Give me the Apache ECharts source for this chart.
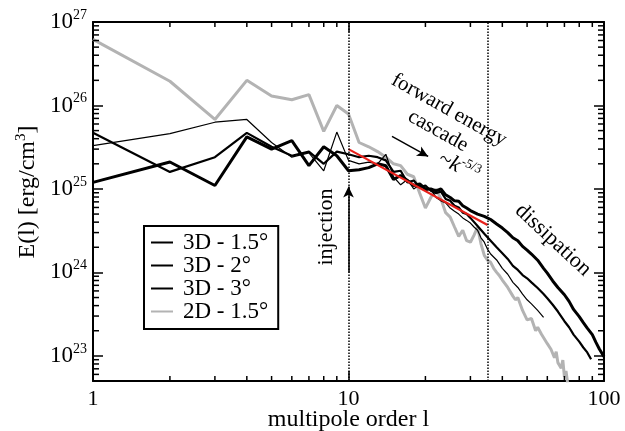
<!DOCTYPE html>
<html>
<head>
    <meta charset="utf-8">
    <script src="https://cdn.jsdelivr.net/npm/echarts@6/dist/echarts.min.js"></script>
    <style>
        html, body { margin: 0; padding: 0; background: #fff; }
        #main { width: 625px; height: 431px; }
    </style>
</head>
<body>
<div id="main"></div>
<script>
  // 能量谱 E(l)，从图上读出的数值
  var names = ['3D - 1.5°', '3D - 2°', '3D - 3°', '2D - 1.5°'];

  var l3d15 = [1,2,3,4,5,6,7,8,9,10,11,12,13,14,15,16,17,18,19,20,21,22,23,24,25,26,27,28,29,30,
    32,34,36,38,40,42,44,46,48,50,52,55,58,60,63,66,70,73,76,80,83,86,90,93,96,100];
  var e3d15 = [1.2e25,2.1e25,1.1e25,4.2e25,3.0e25,3.8e25,1.9e25,3.2e25,2.5e25,1.65e25,
    1.7e25,1.8e25,2.0e25,1.9e25,1.3e25,1.45e25,1.26e25,1.1e25,1.15e25,1.0e25,
    1.0e25,9.5e24,1.0e25,8.5e24,7.9e24,7.2e24,7.1e24,6.3e24,5.9e24,5.5e24,
    5.0e24,4.7e24,4.3e24,3.8e24,3.4e24,3.0e24,2.6e24,2.4e24,2.05e24,1.85e24,
    1.66e24,1.4e24,1.12e24,9.8e23,7.9e23,6.6e23,5.4e23,4.5e23,3.6e23,2.95e23,
    2.5e23,2.15e23,1.8e23,1.45e23,1.2e23,9.8e22];

  var l3d2 = [1,2,3,4,5,6,7,8,9,10,11,12,13,14,15,16,17,18,19,20,21,22,23,24,25,26,27,28,29,30,
    32,34,36,38,40,42,44,46,48,50,52,55,58,60,63,66,70,73,76,80,83,86,89];
  var e3d2 = [4.7e25,1.6e25,2.4e25,4.7e25,3.2e25,2.5e25,2.8e25,2.0e25,2.8e25,2.6e25,
    2.4e25,2.5e25,2.4e25,2.2e25,1.6e25,1.65e25,1.2e25,1.26e25,1.05e25,1.1e25,
    9.5e24,8.9e24,9.3e24,7.6e24,7.2e24,6.3e24,6.0e24,5.2e24,5.0e24,4.5e24,
    3.6e24,2.9e24,2.4e24,2.0e24,1.7e24,1.45e24,1.2e24,1.07e24,9.3e23,8.5e23,
    7.6e23,6.5e23,5.5e23,4.9e23,4.1e23,3.4e23,2.6e23,2.2e23,1.8e23,1.48e23,
    1.26e23,1.1e23,9.1e22];

  var l3d3 = [1,2,3,4,5,6,7,8,9,10,11,12,13,14,15,16,17,18,19,20,21,22,23,24,25,26,27,28,29,30,
    31,32,33,34,35,36,38,40,42,44,46,48,50,52,55,58];
  var e3d3 = [3.3e25,4.6e25,6.3e25,6.8e25,3.6e25,2.4e25,2.7e25,1.65e25,4.8e25,2.2e25,
    2.0e25,2.1e25,2.0e25,2.6e25,1.4e25,1.12e25,1.3e25,1.0e25,1.12e25,9.5e24,
    1.0e25,7.9e24,7.2e24,6.8e24,5.9e24,5.4e24,5.0e24,4.5e24,4.2e24,3.9e24,
    3.5e24,3.2e24,2.6e24,2.3e24,1.9e24,1.66e24,1.41e24,1.12e24,9.5e23,7.6e23,
    6.6e23,5.5e23,4.7e23,4.2e23,3.5e23,2.9e23];

  var l2d15 = [1,2,3,4,5,6,7,8,9,10,11,12,13,14,15,16,17,18,19,20,21,22,23,24,25,26,27,28,29,30,
    31,32,33,34,35,36,37,38,39,40,42,44,45,46,48,50,52,54,55,57,60,62,64,65,66,68,69,70,71,72];
  var e2d15 = [6.2e26,1.95e26,6.8e25,2.0e26,1.3e26,1.17e26,1.35e26,4.9e25,1.0e26,7.9e25,
    3.6e25,3.2e25,2.8e25,2.4e25,2.0e25,1.9e25,1.5e25,1.4e25,8.9e24,5.9e24,
    7.9e24,1.0e25,7.6e24,5.2e24,4.6e24,3.5e24,2.7e24,3.2e24,2.4e24,2.3e24,
    2.8e24,3.5e24,2.2e24,1.6e24,1.4e24,1.32e24,1.12e24,1.0e24,9.1e23,8.1e23,
    6.6e23,5.2e23,4.7e23,5.0e23,3.5e23,2.7e23,2.8e23,2.0e23,2.2e23,1.8e23,
    1.4e23,1.2e23,9.5e22,1.12e23,8.3e22,7.1e22,8.9e22,5.6e22,6.6e22,4.8e22];

  // 红色 -5/3 拟合线的两个端点
  var lFit = [10, 35];
  var eFit = [3.0e25, 3.7e24];

  // 坐标轴范围与次刻度
  var xMin = 1, xMax = 100, yMin = 5e22, yMax = 1e27;
  var xMinor = [2,3,4,5,6,7,8,9,20,30,40,50,60,70,80,90];
  var yMinorMult = [2,3,4,5,6,7,8,9];
  var yDecades = [22,23,24,25,26];

  var FONT = 'Liberation Serif';

  function zip(ls, es) {
    return ls.map(function (l, i) { return [l, es[i]]; });
  }

  var yMinor = [];
  yDecades.forEach(function (d) {
    yMinorMult.forEach(function (m) {
      var v = m * Math.pow(10, d);
      if (v > yMin && v < yMax) yMinor.push(v);
    });
  });

  function powLabel(v) {
    var p = Math.log10(v);
    var e = Math.round(p);
    if (Math.abs(p - e) > 1e-3) return '';
    return '{b|10}{s|' + e + '}';
  }

  // 每根轴单独生成样式对象
  function axisLine() {
    return { show: true, onZero: false, lineStyle: { color: '#000', width: 2 } };
  }
  function axisTick() {
    return { show: true, inside: true, length: 10, lineStyle: { color: '#000', width: 1.5 } };
  }

  // 图中的文字标注
  var notes = [
    { type: 'text', x: 449, y: 110, rotation: -0.51, z: 10,
      style: { text: 'forward energy', fontFamily: FONT, fontSize: 21, fill: '#000', align: 'center', verticalAlign: 'middle' } },
    { type: 'text', x: 438, y: 131, rotation: -0.51, z: 10,
      style: { text: 'cascade', fontFamily: FONT, fontSize: 21, fill: '#000', align: 'center', verticalAlign: 'middle' } },
    { type: 'text', x: 459, y: 167, rotation: -0.45, z: 10,
      style: { text: '~{i|k}{s|-5/3}', fontFamily: FONT, fontSize: 22, fill: '#000', align: 'center', verticalAlign: 'middle',
        rich: {
          i: { fontFamily: FONT, fontSize: 22, fontStyle: 'italic', lineHeight: 26 },
          s: { fontFamily: FONT, fontSize: 13, lineHeight: 13, verticalAlign: 'top' }
        } } },
    { type: 'text', x: 553, y: 240, rotation: -0.75, z: 10,
      style: { text: 'dissipation', fontFamily: FONT, fontSize: 22, fill: '#000', align: 'center', verticalAlign: 'middle' } },
    { type: 'text', x: 326, y: 227, rotation: Math.PI / 2, z: 10,
      style: { text: 'injection', fontFamily: FONT, fontSize: 22, fill: '#000', align: 'center', verticalAlign: 'middle' } },
    // y 轴标题
    { type: 'text', x: 28, y: 192, rotation: Math.PI / 2, z: 10,
      style: { text: '{b|E(l) [erg/cm}{s|3}{b|]}', align: 'center', verticalAlign: 'middle', fill: '#000',
        rich: {
          b: { fontFamily: FONT, fontSize: 24, lineHeight: 28 },
          s: { fontFamily: FONT, fontSize: 15, lineHeight: 15, verticalAlign: 'top' }
        } } }
  ];

  var myChart = echarts.init(document.getElementById('main'));
  var option = {
    animation: false,
    textStyle: { fontFamily: FONT },
    grid: { left: 93, right: 21, top: 22, bottom: 50, outerBoundsMode: 'none' },
    legend: {
      data: names,
      orient: 'vertical',
      left: 144,
      top: 226,
      padding: [5, 10, 6, 6],
      itemGap: 0,
      itemWidth: 22,
      itemHeight: 14,
      borderColor: '#000',
      borderWidth: 2,
      backgroundColor: '#fff',
      selectedMode: false,
      itemStyle: { opacity: 0 },
      textStyle: { fontFamily: FONT, fontSize: 23, color: '#000', lineHeight: 21, padding: [0, 0, 0, 5] }
    },
    xAxis: [{
      type: 'log', logBase: 10, min: xMin, max: xMax, position: 'bottom',
      axisLine: axisLine(), axisTick: axisTick(), splitLine: { show: false },
      axisLabel: { color: '#000', fontFamily: FONT, fontSize: 22, margin: 7 },
      name: 'multipole order l', nameLocation: 'middle', nameGap: 27, nameMoveOverlap: false,
      nameTextStyle: { color: '#000', fontFamily: FONT, fontSize: 24 }
    }, {
      type: 'log', logBase: 10, min: xMin, max: xMax, position: 'top',
      axisLine: axisLine(), axisTick: axisTick(), splitLine: { show: false },
      axisLabel: { show: false }
    }],
    yAxis: [{
      type: 'log', logBase: 10, min: yMin, max: yMax, position: 'left',
      axisLine: axisLine(), axisTick: axisTick(), splitLine: { show: false },
      axisLabel: { formatter: powLabel, margin: 6, rich: {
        b: { fontFamily: FONT, fontSize: 23, lineHeight: 28, color: '#000' },
        s: { fontFamily: FONT, fontSize: 14, lineHeight: 14, verticalAlign: 'top', color: '#000' }
      } }
    }, {
      type: 'log', logBase: 10, min: yMin, max: yMax, position: 'right',
      axisLine: axisLine(), axisTick: axisTick(), splitLine: { show: false },
      axisLabel: { show: false }
    }],
    series: [
      {
        name: names[3], type: 'line', data: zip(l2d15, e2d15), symbol: 'none', z: 2,
        color: '#b3b3b3', lineStyle: { color: '#b3b3b3', width: 3 }
      }, {
        name: names[2], type: 'line', data: zip(l3d3, e3d3), symbol: 'none', z: 3,
        color: '#000', lineStyle: { color: '#000', width: 1.2 }
      }, {
        name: names[1], type: 'line', data: zip(l3d2, e3d2), symbol: 'none', z: 3,
        color: '#000', lineStyle: { color: '#000', width: 2.2 }
      }, {
        name: names[0], type: 'line', data: zip(l3d15, e3d15), symbol: 'none', z: 3,
        color: '#000', lineStyle: { color: '#000', width: 3 }
      }, {
        name: 'fit', type: 'line', data: zip(lFit, eFit), symbol: 'none', z: 4,
        color: '#e8201a', lineStyle: { color: '#e8201a', width: 2.2 },
        markLine: {
          silent: true,
          animation: false,
          symbol: ['none', 'none'],
          label: { show: false },
          lineStyle: { color: '#000', width: 1.5, type: 'dotted' },
          data: [
            { xAxis: 10 },
            { xAxis: 35 },
            [{ coord: [10, 1.0e24], symbol: 'none', lineStyle: { type: 'solid', width: 1.5, color: '#000' } },
             { coord: [10, 1.07e25], symbol: 'arrow', symbolSize: [8, 11] }],
            [{ coord: [14.8, 4.27e25], symbol: 'none', lineStyle: { type: 'solid', width: 1.5, color: '#000' } },
             { coord: [20.5, 2.45e25], symbol: 'arrow', symbolSize: [8, 11] }]
          ]
        }
      }
    ]
  };
  myChart.setOption(option);

  // 对数次刻度：用坐标轴换算出像素位置后画在框内侧
  var X = function (v) { return myChart.convertToPixel({ xAxisIndex: 0 }, v); };
  var Y = function (v) { return myChart.convertToPixel({ yAxisIndex: 0 }, v); };
  var gfx = notes.slice();
  var yb = Y(yMin), yt = Y(yMax), xl = X(xMin), xr = X(xMax);
  function tick(x1, y1, x2, y2) {
    return { type: 'line', z: 10, shape: { x1: x1, y1: y1, x2: x2, y2: y2 }, style: { stroke: '#000', lineWidth: 1.5 } };
  }
  xMinor.forEach(function (v) {
    var x = X(v);
    gfx.push(tick(x, yb, x, yb - 5));
    gfx.push(tick(x, yt, x, yt + 5));
  });
  yMinor.forEach(function (v) {
    var y = Y(v);
    gfx.push(tick(xl, y, xl + 6, y));
    gfx.push(tick(xr, y, xr - 6, y));
  });
  myChart.setOption({ graphic: gfx });
</script>
</body>
</html>
